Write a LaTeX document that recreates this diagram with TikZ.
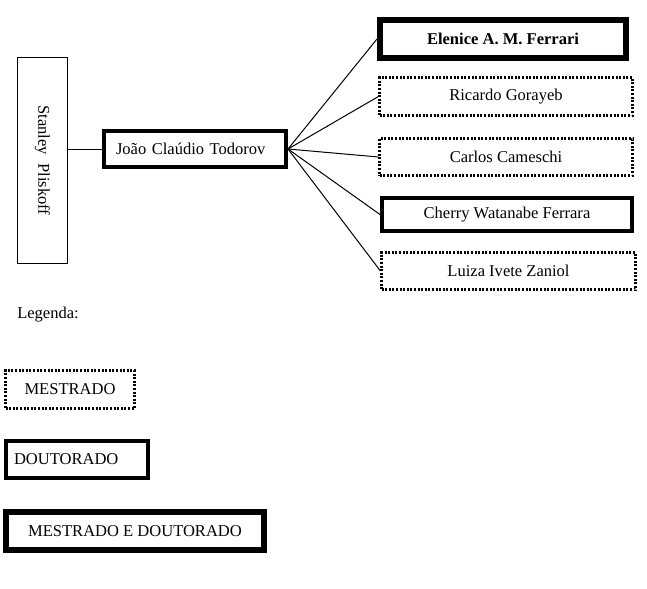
\documentclass[tikz,border=0pt]{standalone}
\usepackage{fontspec}
\setmainfont{Liberation Serif}
\begin{document}
\begin{tikzpicture}[x=0.75pt,y=-0.75pt,
  box/.style={draw, inner sep=0pt, align=center, font=\fontsize{12.4pt}{14pt}\selectfont},
  thinbox/.style={box, line width=0.75pt},
  dotbox/.style={box, line width=1.6pt, dash pattern=on 1.5pt off 1.2pt},
  thickbox/.style={box, line width=3pt},
  heavybox/.style={box, line width=4.5pt},
  link/.style={line width=0.75pt}]
\useasboundingbox (0,0) rectangle (647,589);
\node[thinbox, minimum width=50*0.75pt, minimum height=206*0.75pt] (stanley) at (42.5,160.5) {\rotatebox{-90}{Stanley\ \ Pliskoff}};
\node[thickbox, minimum width=182*0.75pt, minimum height=36*0.75pt, text width=158*0.75pt, align=left] (joao) at (195,149) {João Claúdio Todorov};
\node[heavybox, minimum width=246*0.75pt, minimum height=38*0.75pt] (elenice) at (503,39) {\bfseries Elenice A. M. Ferrari};
\node[dotbox, minimum width=253*0.75pt, minimum height=38*0.75pt] (ricardo) at (506,96.5) {Ricardo Gorayeb};
\node[dotbox, minimum width=253*0.75pt, minimum height=37*0.75pt] (carlos) at (506,157) {Carlos Cameschi};
\node[thickbox, minimum width=250*0.75pt, minimum height=33*0.75pt] (cherry) at (507,214.5) {Cherry Watanabe Ferrara};
\node[dotbox, minimum width=254*0.75pt, minimum height=37*0.75pt] (luiza) at (508.5,271) {Luiza Ivete Zaniol};

\draw[link] (joao.west -| stanley.east) -- (joao.west);
\foreach \t in {elenice,ricardo,carlos,cherry,luiza}
  \draw[link] (joao.east) -- (\t.west);

\node[font=\fontsize{12.4pt}{14pt}\selectfont, anchor=west, inner sep=0pt] (legenda) at (17,315) {Legenda:};
\node[dotbox, minimum width=129*0.75pt, minimum height=38*0.75pt] (mest) at (70,389.5) {MESTRADO};
\node[thickbox, minimum width=142*0.75pt, minimum height=37*0.75pt, text width=126*0.75pt, align=left] (dout) at (77,459.5) {DOUTORADO};
\node[heavybox, minimum width=258*0.75pt, minimum height=38*0.75pt] (med) at (135,531) {MESTRADO E DOUTORADO};
\end{tikzpicture}
\end{document}
